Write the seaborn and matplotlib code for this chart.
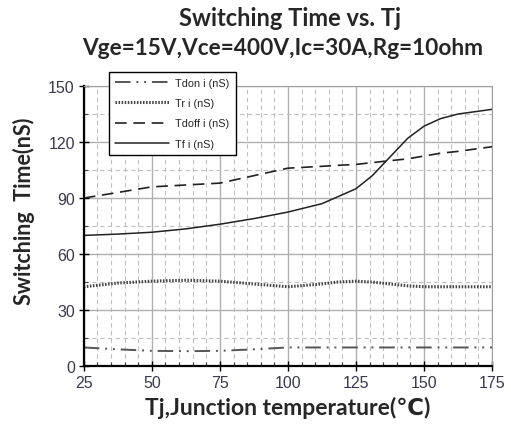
import matplotlib
matplotlib.use("Agg")
import matplotlib.pyplot as plt
import seaborn as sns
import pandas as pd
from matplotlib.ticker import MultipleLocator

temps = [25, 37.5, 50, 62.5, 75, 87.5, 100, 112.5, 118, 125, 131, 137.5, 144, 150, 156, 162.5, 175]
tdon = [10, 9, 8.2, 8, 8.2, 9, 10, 10, 10, 10, 10, 10, 10, 10, 10, 10, 10]
tri = [42.5, 44.5, 45.5, 46, 45.5, 44, 42.5, 44, 45, 45.5, 45, 44, 43, 42.5, 42.5, 42.5, 42.5]
tdoff = [90, 93, 96, 97, 98, 102, 106, 107, 107.5, 108, 109, 110, 111, 112.5, 114, 115, 117.5]
tfi = [70, 70.7, 71.7, 73.5, 76, 79, 82.5, 87, 90.5, 95, 102, 112, 122, 128.5, 132.5, 135, 137.5]
labels = ["Tdon i (nS)", "Tr i (nS)", "Tdoff i (nS)", "Tf i (nS)"]

df = pd.DataFrame({
    "Tj": temps * 4,
    "val": tdon + tri + tdoff + tfi,
    "series": sum([[l] * len(temps) for l in labels], []),
})

sns.set_style("white")
plt.rcParams['font.family'] = ['Lato', 'DejaVu Sans']

fig = plt.figure(figsize=(5.11, 4.35), dpi=100)
ax = fig.add_axes([0.164, 0.156, 0.799, 0.644])

styles = {
    "Tdon i (nS)": dict(color="#555555", ls=(0, (8, 3, 1, 3, 1, 3)), lw=1.4),
    "Tr i (nS)": dict(color="#444444", ls=(0, (0.5, 0.5)), lw=2.2),
    "Tdoff i (nS)": dict(color="#222222", ls=(0, (7, 4)), lw=1.2),
    "Tf i (nS)": dict(color="#222222", ls="-", lw=1.1),
}
for lab in labels:
    s = styles[lab]
    sns.lineplot(data=df[df.series == lab], x="Tj", y="val", ax=ax,
                 color=s["color"], linestyle=s["ls"], linewidth=s["lw"], label=lab)

ax.set_xlim(25, 175)
ax.set_ylim(0, 150)
ax.xaxis.set_major_locator(MultipleLocator(25))
ax.yaxis.set_major_locator(MultipleLocator(30))
ax.xaxis.set_minor_locator(MultipleLocator(5))
ax.yaxis.set_minor_locator(MultipleLocator(15))
ax.grid(which="major", color="#b0b0b0", lw=1.0, ls="-")
ax.grid(which="minor", color="#c0c0c0", lw=0.8, ls=(0, (4, 3)))
ax.set_axisbelow(True)

for sp in ["top", "right"]:
    ax.spines[sp].set_color("#a0a0a0")
for sp in ["left", "bottom"]:
    ax.spines[sp].set_color("black")
    ax.spines[sp].set_linewidth(1.6)

ax.tick_params(axis="both", which="major", direction="inout", length=7, width=1,
               labelsize=11.5, colors="black", bottom=True, left=True, pad=3)
ax.tick_params(axis="both", which="minor", direction="in", length=3, width=0.8,
               colors="#444444", bottom=True, left=True)
for t in ax.get_xticklabels() + ax.get_yticklabels():
    t.set_fontfamily(["Liberation Sans", "DejaVu Sans"])
    t.set_color("#3a3a50")

ax.set_xlabel("Tj,Junction temperature(℃)", fontsize=16.5, fontweight="bold", labelpad=4)
ax.set_ylabel("Switching  Time(nS)", fontsize=15.5, fontweight="bold", labelpad=7)
ax.yaxis.set_label_coords(-0.12, 0.555)

fig.text(0.567, 0.958, "Switching Time vs. Tj", ha="center", va="center",
         fontsize=17, fontweight="bold")
fig.text(0.554, 0.888, "Vge=15V,Vce=400V,Ic=30A,Rg=10ohm", ha="center", va="center",
         fontsize=16.3, fontweight="bold")

leg = ax.legend(loc="upper left", bbox_to_anchor=(0.048, 1.07),
                prop={"family": ["Liberation Sans", "DejaVu Sans"], "size": 7.8},
                frameon=True, fancybox=False, handlelength=5.0, borderpad=0.55,
                labelspacing=0.95, handletextpad=0.6)
leg.get_frame().set_edgecolor("black")
leg.get_frame().set_linewidth(1.0)
leg.get_frame().set_alpha(1)

fig.savefig("out.png", dpi=100)
